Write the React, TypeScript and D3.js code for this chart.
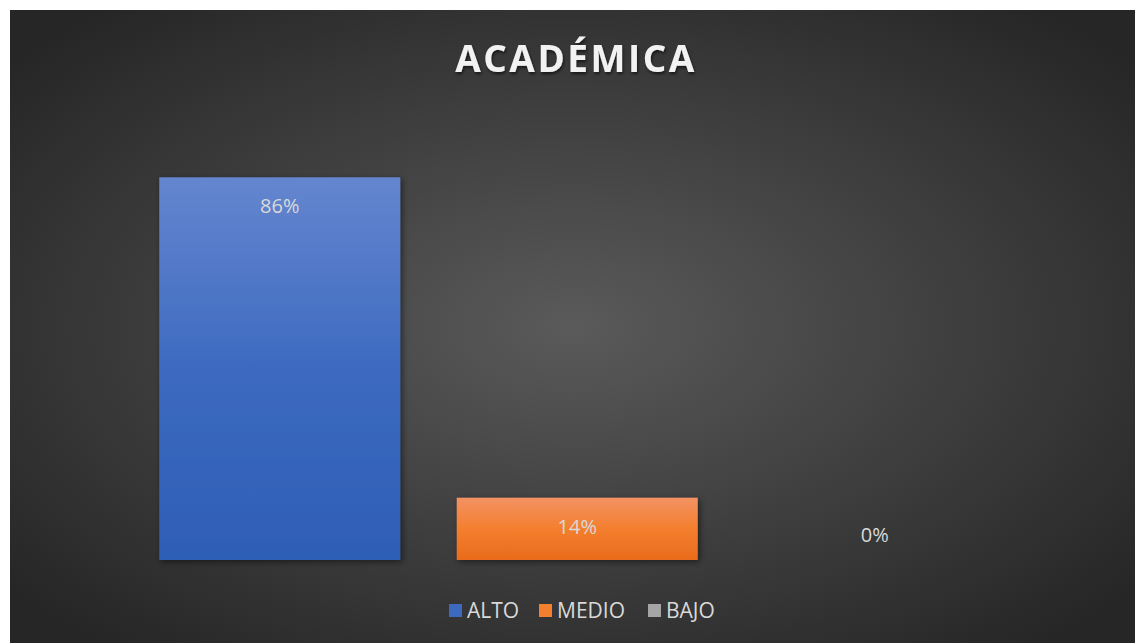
import React, { useEffect, useRef } from "react";
import * as d3 from "d3";

const categories = ["ALTO", "MEDIO", "BAJO"];
const values = [0.86, 0.14, 0];
const labels = ["86%", "14%", "0%"];
const colors = [
  ["#6586cf", "#3d6ac0", "#2e5eb6"],
  ["#f39263", "#f47f2f", "#e96b1b"],
  ["#b8b8b8", "#a5a5a5", "#939393"],
];
const title = "ACADÉMICA";

const W = 1135;
const H = 643;

function Chart() {
  const ref = useRef<SVGSVGElement>(null);

  useEffect(() => {
    const svg = d3.select(ref.current);
    svg.selectAll("*").remove();

    const defs = svg.append("defs");
    const bg = defs.append("radialGradient")
      .attr("id", "bg")
      .attr("cx", "50%").attr("cy", "50%").attr("r", "65%");
    bg.append("stop").attr("offset", "0%").attr("stop-color", "#5a5a5a");
    bg.append("stop").attr("offset", "100%").attr("stop-color", "#262626");

    categories.forEach((c, i) => {
      const g = defs.append("linearGradient")
        .attr("id", `fill${i}`)
        .attr("x1", 0).attr("y1", 0).attr("x2", 0).attr("y2", 1);
      g.append("stop").attr("offset", "0%").attr("stop-color", colors[i][0]);
      g.append("stop").attr("offset", "50%").attr("stop-color", colors[i][1]);
      g.append("stop").attr("offset", "100%").attr("stop-color", colors[i][2]);
    });

    const shadow = defs.append("filter").attr("id", "shadow")
      .attr("x", "-10%").attr("y", "-10%").attr("width", "130%").attr("height", "130%");
    shadow.append("feDropShadow")
      .attr("dx", 2).attr("dy", 2).attr("stdDeviation", 3)
      .attr("flood-color", "#000").attr("flood-opacity", 0.5);

    const tshadow = defs.append("filter").attr("id", "tshadow");
    tshadow.append("feDropShadow")
      .attr("dx", 1).attr("dy", 2).attr("stdDeviation", 1.5)
      .attr("flood-color", "#000").attr("flood-opacity", 0.6);

    svg.append("rect")
      .attr("x", 10).attr("y", 10)
      .attr("width", W - 10).attr("height", H - 10)
      .attr("fill", "url(#bg)");

    const x = d3.scaleBand()
      .domain(categories)
      .range([131, 1023.5])
      .paddingInner(0.19)
      .paddingOuter(0.095);

    const y = d3.scaleLinear().domain([0, 1]).range([560, 115]);

    const data = categories.map((c, i) => ({ c, v: values[i], label: labels[i], i }));

    svg.append("g")
      .selectAll("rect")
      .data(data.filter(d => d.v > 0))
      .join("rect")
      .attr("x", d => x(d.c)!)
      .attr("y", d => y(d.v))
      .attr("width", x.bandwidth())
      .attr("height", d => y(0) - y(d.v))
      .attr("fill", d => `url(#fill${d.i})`)
      .attr("filter", "url(#shadow)");

    svg.append("g")
      .selectAll("text")
      .data(data)
      .join("text")
      .attr("x", d => x(d.c)! + x.bandwidth() / 2)
      .attr("y", d => d.v > 0 ? y(d.v) + 36 : y(0) - 18)
      .attr("text-anchor", "middle")
      .attr("font-family", "'Open Sans', sans-serif")
      .attr("font-size", 20)
      .attr("fill", "#d9d9d9")
      .text(d => d.label);

    svg.append("text")
      .attr("x", 576)
      .attr("y", 72)
      .attr("text-anchor", "middle")
      .attr("font-family", "'Open Sans', sans-serif")
      .attr("font-weight", "bold")
      .attr("font-size", 37)
      .attr("letter-spacing", 2.5)
      .attr("fill", "#f2f2f2")
      .attr("filter", "url(#tshadow)")
      .text(title);

    // legend
    const legend = svg.append("g");
    const items = [
      { c: categories[0], x: 449 },
      { c: categories[1], x: 539 },
      { c: categories[2], x: 648 },
    ];
    items.forEach((it, i) => {
      legend.append("rect")
        .attr("x", it.x).attr("y", 604)
        .attr("width", 13).attr("height", 13)
        .attr("fill", colors[i][1]);
      legend.append("text")
        .attr("x", it.x + 18).attr("y", 618)
        .attr("font-family", "'Open Sans', sans-serif")
        .attr("font-size", 21)
        .attr("fill", "#d9d9d9")
        .text(it.c);
    });
  }, []);

  return <svg ref={ref} width={W} height={H} style={{ display: "block" }}></svg>;
}

export default function App() {
  return (
    <div style={{ position: "absolute", left: 0, top: 0 }}>
      <Chart />
    </div>
  );
}
